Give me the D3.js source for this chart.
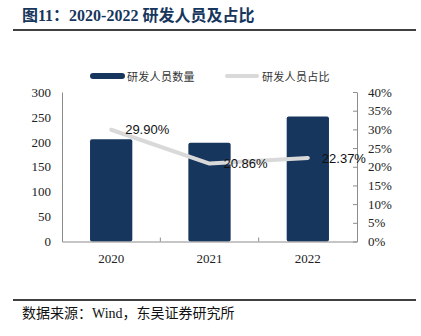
<!DOCTYPE html>
<html>
<head>
<meta charset="utf-8">
<script src="https://cdn.jsdelivr.net/npm/d3@7"></script>
<style>
  html, body { margin: 0; padding: 0; background: #fff; }
  svg { display: block; }
</style>
</head>
<body>
<svg id="chart" width="421" height="336"></svg>
<script>
const categories = ["2020", "2021", "2022"];
const staffCount = [205, 198, 251];
const staffRatio = [29.90, 20.86, 22.37];
const leftTicks = [0, 50, 100, 150, 200, 250, 300];
const rightTicks = [0, 5, 10, 15, 20, 25, 30, 35, 40];
const titleText = "图11：2020-2022 研发人员及占比";
const sourceText = "数据来源：Wind，东吴证券研究所";
const legendBar = "研发人员数量";
const legendLine = "研发人员占比";

const svg = d3.select("#chart");
const serif = "'Liberation Serif', 'Times New Roman', 'Noto Sans CJK SC', serif";
const cjk = "'Liberation Serif', 'Noto Sans CJK SC', sans-serif";
const barColor = "#17365d";
const lineColor = "#d9d9d9";
const axisColor = "#8c8c8c";

// Title
svg.append("text").attr("x", 22).attr("y", 21)
  .attr("font-family", cjk).attr("font-size", 16).attr("font-weight", "bold")
  .attr("fill", "#17365d").text(titleText);
svg.append("line").attr("x1", 13).attr("x2", 416).attr("y1", 30).attr("y2", 30)
  .attr("stroke", "#000").attr("stroke-width", 1.5);

// Footer
svg.append("line").attr("x1", 13).attr("x2", 416).attr("y1", 300).attr("y2", 300)
  .attr("stroke", "#000").attr("stroke-width", 1.5);
svg.append("text").attr("x", 22).attr("y", 318)
  .attr("font-family", cjk).attr("font-size", 14)
  .attr("fill", "#111").text(sourceText);

// Scales
const pL = 62, pR = 357, pT = 92, pB = 241.5;
const x = d3.scaleBand().domain(categories).range([pL, pR])
  .paddingInner(0.57).paddingOuter(0.285);
const yL = d3.scaleLinear().domain([0, 300]).range([pB, pT]);
const yR = d3.scaleLinear().domain([0, 40]).range([pB, pT]);

// Bars
svg.append("g").selectAll("rect").data(categories).join("rect")
  .attr("x", d => x(d))
  .attr("width", x.bandwidth())
  .attr("y", (d, i) => yL(staffCount[i]))
  .attr("height", (d, i) => pB - yL(staffCount[i]))
  .attr("rx", 2).attr("fill", barColor);

// Left axis
const gL = svg.append("g").attr("transform", `translate(${pL},0)`)
  .call(d3.axisLeft(yL).tickValues(leftTicks).tickSize(0).tickPadding(11));
gL.select(".domain").attr("stroke", axisColor);
gL.selectAll("text").attr("font-family", serif).attr("font-size", 13).attr("fill", "#222");

// Right axis
const gR = svg.append("g").attr("transform", `translate(${pR},0)`)
  .call(d3.axisRight(yR).tickValues(rightTicks).tickFormat(d => d + "%")
    .tickSizeInner(-4).tickSizeOuter(0).tickPadding(11));
gR.select(".domain").attr("stroke", axisColor);
gR.selectAll(".tick line").attr("stroke", axisColor);
gR.selectAll("text").attr("font-family", serif).attr("font-size", 13).attr("fill", "#222");

// Bottom axis
const gB = svg.append("g").attr("transform", `translate(0,${pB})`)
  .call(d3.axisBottom(x).tickSize(0).tickPadding(12));
gB.select(".domain").attr("stroke", axisColor);
gB.selectAll("text").attr("font-family", serif).attr("font-size", 13).attr("fill", "#222");
const step = x.step();
const bounds = categories.slice(1).map(d => x(d) - step * x.paddingInner() / 2);
gB.selectAll(".sep").data(bounds).join("line").attr("class", "sep")
  .attr("x1", d => d).attr("x2", d => d).attr("y1", 0).attr("y2", -4)
  .attr("stroke", axisColor);

// Line
const cx = d => x(d) + x.bandwidth() / 2;
const lineGen = d3.line().x(d => cx(d)).y((d, i) => yR(staffRatio[i]));
svg.append("path").datum(categories).attr("d", lineGen)
  .attr("fill", "none").attr("stroke", lineColor).attr("stroke-width", 4)
  .attr("stroke-linecap", "round").attr("stroke-linejoin", "round");

// Labels
svg.append("g").selectAll("text").data(categories).join("text")
  .attr("x", d => cx(d) + 14)
  .attr("y", (d, i) => yR(staffRatio[i]))
  .attr("dy", "0.36em")
  .attr("font-family", "'Liberation Sans', Arial, sans-serif").attr("font-size", 13)
  .attr("fill", "#111")
  .text((d, i) => staffRatio[i].toFixed(2) + "%");

// Legend
const lg = svg.append("g");
lg.append("rect").attr("x", 90).attr("y", 73).attr("width", 35).attr("height", 6)
  .attr("rx", 3).attr("fill", barColor);
lg.append("text").attr("x", 127).attr("y", 77).attr("dy", "0.36em")
  .attr("font-family", cjk).attr("font-size", 11).attr("letter-spacing", 0.3)
  .attr("fill", "#333").text(legendBar);
lg.append("line").attr("x1", 227).attr("x2", 257).attr("y1", 76).attr("y2", 76)
  .attr("stroke", lineColor).attr("stroke-width", 4).attr("stroke-linecap", "round");
lg.append("text").attr("x", 262).attr("y", 77).attr("dy", "0.36em")
  .attr("font-family", cjk).attr("font-size", 11).attr("letter-spacing", 0.3)
  .attr("fill", "#333").text(legendLine);
</script>
</body>
</html>
